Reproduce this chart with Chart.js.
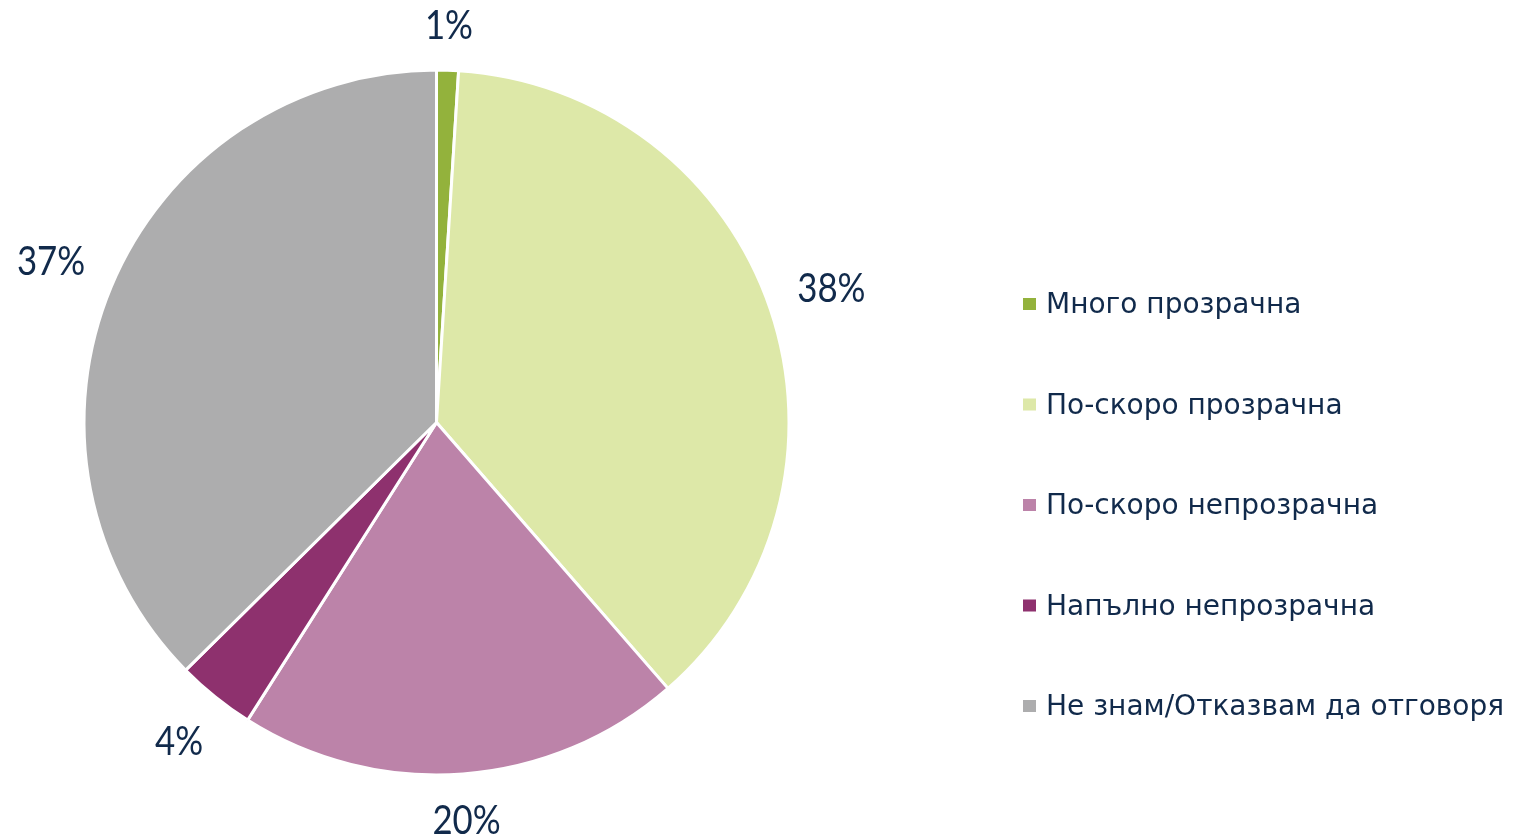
<!DOCTYPE html>
<html>
<head>
<meta charset="utf-8">
<script src="https://cdn.jsdelivr.net/npm/chart.js@4"></script>
<style>
  html, body { margin: 0; padding: 0; background: #fff; }
  #wrap { width: 1519px; height: 839px; position: relative; }
</style>
</head>
<body>
<div id="wrap"><canvas id="pie"></canvas></div>
<script>
const categories = [
    'Много прозрачна',
    'По-скоро прозрачна',
    'По-скоро непрозрачна',
    'Напълно непрозрачна',
    'Не знам/Отказвам да отговоря'
];
const shares = [1.0, 37.6, 20.4, 3.6, 37.4];
const pctLabels = ['1%', '38%', '20%', '4%', '37%'];
const sliceColors = ['#93b23c', '#dde8a8', '#bc83a9', '#8e316e', '#adadae'];

const textColor = '#112a4b';

// Percent labels outside each slice
const outsideLabels = {
    id: 'outsideLabels',
    afterDatasetsDraw(chart) {
        const ctx = chart.ctx;
        const meta = chart.getDatasetMeta(0);
        const squeeze = 0.85;
        ctx.save();
        ctx.font = '41px Lato';
        ctx.fillStyle = textColor;
        ctx.textAlign = 'center';
        ctx.textBaseline = 'middle';
        meta.data.forEach((arc, i) => {
            const p = arc.getProps(['x', 'y', 'startAngle', 'endAngle', 'outerRadius'], true);
            const mid = (p.startAngle + p.endAngle) / 2;
            const ux = Math.cos(mid), uy = Math.sin(mid);
            const txt = pctLabels[i];
            // label box (text + a little padding) kept clear of the rim
            const hw = ctx.measureText(txt).width * squeeze / 2 + 8;
            const hh = 28;
            const d = p.outerRadius - 1.5 + 17 + hw * Math.abs(ux) + hh * Math.abs(uy);
            ctx.save();
            ctx.translate(p.x + ux * d, p.y + uy * d);
            ctx.scale(squeeze, 1);
            ctx.fillText(txt, 0, 0);
            ctx.restore();
        });
        ctx.restore();
    }
};

// Legend on the right
const sideLegend = {
    id: 'sideLegend',
    afterDraw(chart) {
        const ctx = chart.ctx;
        ctx.save();
        ctx.font = '28px "DejaVu Sans"';
        ctx.textBaseline = 'middle';
        ctx.textAlign = 'left';
        categories.forEach((name, i) => {
            const y = 304 + i * 100.5;
            ctx.fillStyle = sliceColors[i];
            ctx.fillRect(1023, y - 6, 13, 12);
            ctx.fillStyle = textColor;
            ctx.fillText(name, 1046, y + 2);
        });
        ctx.restore();
    }
};

new Chart(document.getElementById('pie'), {
    type: 'pie',
    data: {
        labels: categories,
        datasets: [{
            data: shares,
            backgroundColor: sliceColors,
            borderColor: '#ffffff',
            borderWidth: 3
        }]
    },
    options: {
        responsive: true,
        maintainAspectRatio: false,
        animation: false,
        layout: {
            padding: { left: 82.5, right: 728.5, top: 68.5, bottom: 62.5 }
        },
        plugins: {
            legend: { display: false },
            tooltip: { enabled: false }
        }
    },
    plugins: [outsideLabels, sideLegend]
});
</script>
</body>
</html>
